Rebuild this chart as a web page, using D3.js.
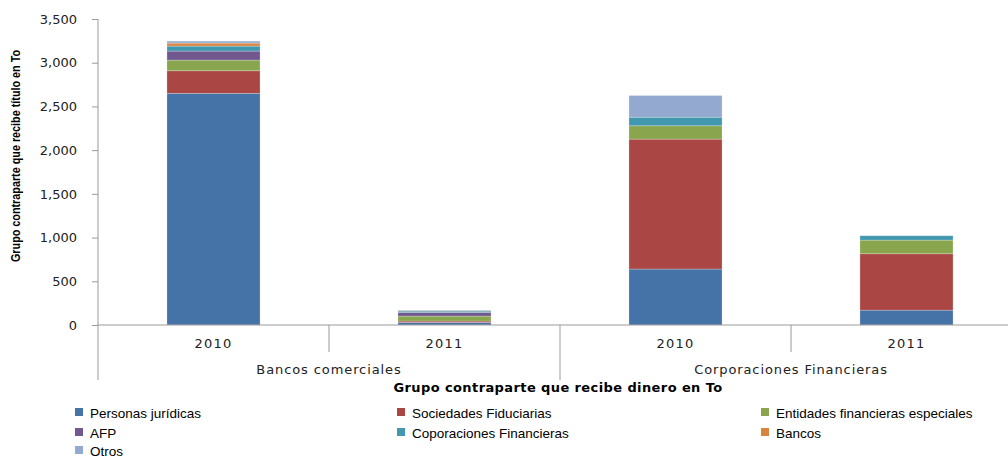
<!DOCTYPE html>
<html><head><meta charset="utf-8">
<script src="https://cdn.jsdelivr.net/npm/d3@7"></script>
<style>body{margin:0;background:#fff;}svg{display:block;}</style>
</head><body><svg id="c" width="1008" height="458"></svg>
<script>
const years = ["2010", "2011", "2010", "2011"];
const groups = ["Bancos comerciales", "Corporaciones Financieras"];
const seriesNames = ["Personas jurídicas", "Sociedades Fiduciarias", "Entidades financieras especiales", "AFP", "Coporaciones Financieras", "Bancos", "Otros"];
const personasJuridicas = [2650, 30, 640, 170];
const sociedadesFiduciarias = [258, 15, 1486, 645];
const entidadesEspeciales = [122, 57, 153, 156];
const afp = [103, 42, 0, 0];
const coporacionesFinancieras = [57, 15, 98, 50];
const bancos = [34, 6, 0, 0];
const otros = [23, 6, 248, 0];
const yTicks = [0, 500, 1000, 1500, 2000, 2500, 3000, 3500];
const colors = ["#4572A7", "#AA4643", "#89A54E", "#71588F", "#4198AF", "#DB843D", "#93A9CF"];

const seriesValues = [personasJuridicas, sociedadesFiduciarias, entidadesEspeciales, afp, coporacionesFinancieras, bancos, otros];
const rows = years.map((y, i) => {
  const r = {idx: i};
  seriesNames.forEach((s, k) => r[s] = seriesValues[k][i]);
  return r;
});
const stacked = d3.stack().keys(seriesNames)(rows);

const svg = d3.select("#c");
const x = d3.scaleBand().domain(d3.range(years.length)).range([98, 1022]).padding(0);
const y = d3.scaleLinear().domain([0, 3500]).range([325, 19]);
const barW = x.bandwidth() * 0.403;
const axisColor = "#9a9a9a";

// bars
stacked.forEach((layer, k) => {
  svg.append("g").attr("fill", colors[k]).selectAll("rect").data(layer).join("rect")
    .attr("x", (d, i) => x(i) + (x.bandwidth() - barW) / 2)
    .attr("width", barW)
    .attr("y", d => y(d[1]))
    .attr("height", d => Math.max(0, y(d[0]) - y(d[1])))
    .attr("stroke", "rgba(255,255,255,0.3)")
    .attr("stroke-width", 0.8);
});

// y axis
const yAxis = d3.axisLeft(y).tickValues(yTicks).tickFormat(d3.format(",")).tickSize(6).tickPadding(15);
const gy = svg.append("g").attr("transform", "translate(98,0)").call(yAxis);
gy.select(".domain").remove();
gy.selectAll(".tick line").attr("stroke", axisColor);
gy.selectAll(".tick text").attr("font-family", "DejaVu Sans, Verdana, sans-serif").attr("font-size", "13px").attr("fill", "#222");
svg.append("line").attr("x1", 98).attr("x2", 98).attr("y1", 19).attr("y2", 380).attr("stroke", axisColor);

// x axis line
svg.append("line").attr("x1", 98).attr("x2", 1022).attr("y1", y(0)).attr("y2", y(0)).attr("stroke", axisColor);
// separators
years.forEach((yr, i) => {
  if (i === 0) return;
  const xx = x(i);
  const full = i % 2 === 0;
  svg.append("line").attr("x1", xx).attr("x2", xx).attr("y1", y(0)).attr("y2", full ? 380 : 352).attr("stroke", axisColor);
});
// year labels
svg.append("g").selectAll("text").data(years).join("text")
  .attr("x", (d, i) => x(i) + x.bandwidth() / 2)
  .attr("y", 348)
  .attr("text-anchor", "middle")
  .attr("font-family", "DejaVu Sans, Verdana, sans-serif")
  .attr("font-size", "13px").attr("letter-spacing", "1.2px").attr("fill", "#222")
  .text(d => d);
// group labels
svg.append("g").selectAll("text").data(groups).join("text")
  .attr("x", (d, g) => x(g * 2) + x.bandwidth())
  .attr("y", 374)
  .attr("text-anchor", "middle")
  .attr("font-family", "DejaVu Sans, Verdana, sans-serif")
  .attr("font-size", "13px").attr("letter-spacing", "0.9px").attr("fill", "#222")
  .text(d => d);
// x title
svg.append("text").attr("x", 558).attr("y", 392).attr("text-anchor", "middle")
  .attr("font-family", "DejaVu Sans, Verdana, sans-serif").attr("font-weight", "bold")
  .attr("font-size", "13px").attr("letter-spacing", "0.4px").attr("fill", "#000")
  .text("Grupo contraparte que recibe dinero en To");
// y title (condensed bold)
svg.append("text").attr("transform", "translate(20,156) rotate(-90) scale(0.8,1)").attr("text-anchor", "middle")
  .attr("font-family", "Liberation Sans, Arial, sans-serif").attr("font-weight", "bold")
  .attr("font-size", "13.5px").attr("fill", "#000")
  .text("Grupo contraparte que recibe título en To");

// legend
const legX = [75, 397, 761];
const legY = [415, 435, 453];
const lg = svg.append("g").selectAll("g").data(seriesNames).join("g")
  .attr("transform", (d, i) => `translate(${legX[i % 3]},${legY[Math.floor(i / 3)]})`);
lg.append("rect").attr("x", 0).attr("y", -7).attr("width", 8).attr("height", 8).attr("fill", (d, i) => colors[i]);
lg.append("text").attr("x", 15).attr("y", 3)
  .attr("font-family", "Liberation Sans, Arial, sans-serif").attr("font-size", "13.5px").attr("fill", "#000")
  .text(d => d);
</script></body></html>
